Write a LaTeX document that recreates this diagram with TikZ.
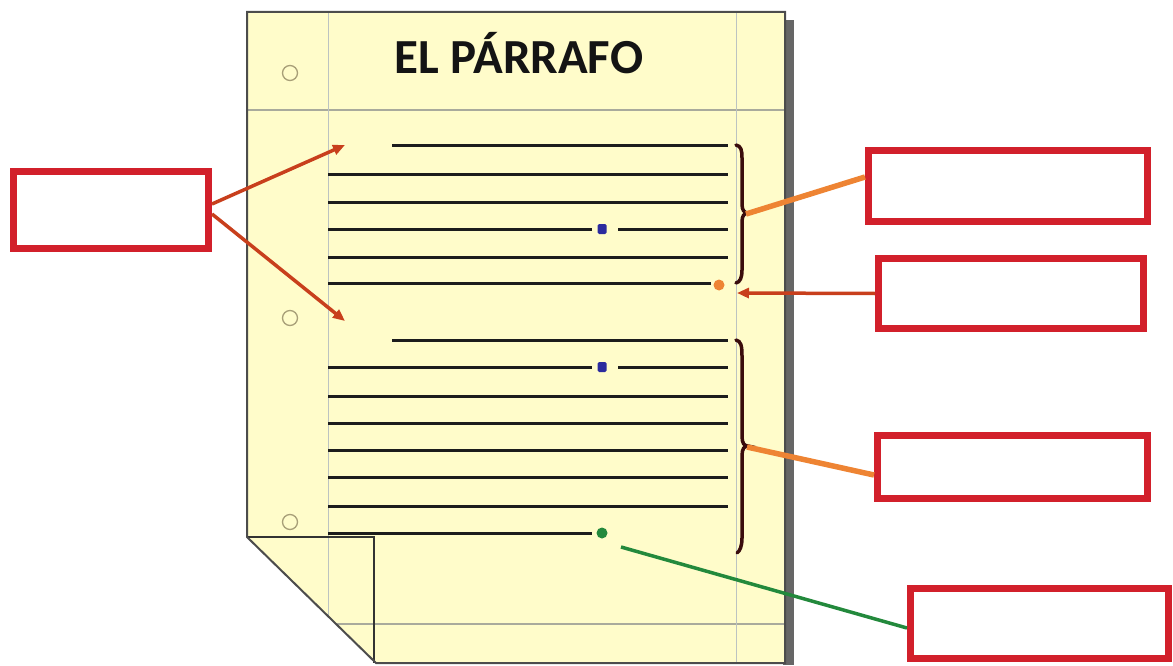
\documentclass[tikz,border=0pt]{standalone}
\usepackage{fontspec}
\newfontfamily\titlefont{Carlito}
\usetikzlibrary{arrows.meta}
\definecolor{paper}{HTML}{FFFCCA}
\definecolor{boxred}{HTML}{D2202B}
\definecolor{arrred}{HTML}{C83F1C}
\definecolor{orng}{HTML}{EE8433}
\definecolor{grn}{HTML}{23893C}
\definecolor{brc}{HTML}{3A0C0C}
\definecolor{txtline}{HTML}{1C1C1C}
\definecolor{rule}{HTML}{A9AA9C}
\definecolor{margin}{HTML}{BCC3C1}
\definecolor{holec}{HTML}{A89F78}
\definecolor{dotblue}{HTML}{2B2B9E}
\tikzset{
  labelbox/.style={draw=boxred, line width=7pt, fill=white, rectangle, inner sep=0pt},
  textline/.style={draw=txtline, line width=3pt},
  redarrow/.style={draw=arrred, line width=3.5pt, -{Triangle[length=12pt,width=10pt]}},
  orangeline/.style={draw=orng, line width=5.5pt},
  greenline/.style={draw=grn, line width=3.5pt},
  bracestyle/.style={draw=brc, line width=3.5pt, line cap=round},
  hole/.style={draw=holec, line width=1.3pt, circle, minimum size=15pt, inner sep=0pt},
}
\begin{document}
\begin{tikzpicture}[x=1pt,y=-1pt]
\useasboundingbox (0,0) rectangle (1173,666);
% shadow
\fill[gray!80!black] (783,20) rectangle (794,665);
% paper
\path[fill=paper] (247,12) -- (785,12) -- (785,663) -- (376,663) -- (247,537) -- cycle;
\begin{scope}
\clip (247,12) -- (785,12) -- (785,663) -- (376,663) -- (247,537) -- cycle;
\draw[rule, line width=1.2pt] (247,110) -- (785,110);
\draw[rule, line width=1.2pt] (247,624) -- (785,624);
\draw[margin, line width=1pt] (328,12) -- (328,663);
\draw[margin, line width=1pt] (736,12) -- (736,663);
\end{scope}
% fold flap
\draw[black!80, line width=2pt] (247,537) -- (374,537) -- (374,663);
\draw[black!70, line width=2pt] (247,12) -- (785,12) -- (785,663) -- (376,663) -- (247,537) -- cycle;
% holes
\node[hole] (h1) at (290,73) {};
\node[hole] (h2) at (290,318) {};
\node[hole] (h3) at (290,522) {};
% title
\node[anchor=base, inner sep=0pt, text=black!92] (title) at (519,74)
  {\titlefont\bfseries\fontsize{49}{54}\selectfont EL PÁRRAFO};
% paragraph 1
\draw[textline] (392,146) -- (728,146);
\draw[textline] (328,175) -- (728,175);
\draw[textline] (328,202) -- (728,202);
\draw[textline] (328,229) -- (592,229);
\draw[textline] (618,229) -- (728,229);
\draw[textline] (328,257) -- (728,257);
\draw[textline] (328,283) -- (711,283);
\fill[dotblue, rounded corners=1.5pt] (597.5,224) rectangle (606.5,234);
\fill[orng] (719,285) circle (5.5pt);
% paragraph 2
\draw[textline] (392,340) -- (728,340);
\draw[textline] (328,367) -- (592,367);
\draw[textline] (618,367) -- (728,367);
\foreach \yy in {396,423,450,477,506} \draw[textline] (328,\yy) -- (728,\yy);
\draw[textline] (328,533) -- (592,533);
\fill[dotblue, rounded corners=1.5pt] (597.5,362) rectangle (606.5,372);
\node[circle, fill=grn, minimum size=11pt, inner sep=0pt] (gdot) at (602,533) {};
% braces
\draw[bracestyle] (736,145) .. controls (741,146) and (742,150) .. (742,158) -- (742,204)
  .. controls (742,210) and (744,213) .. (748,213)
  .. controls (744,213) and (742,216) .. (742,222) -- (742,270)
  .. controls (742,278) and (740,282) .. (736,283);
\draw[bracestyle] (736,340) .. controls (741,341) and (742,346) .. (742,356) -- (742,436)
  .. controls (742,443) and (744,446) .. (748,446)
  .. controls (744,446) and (742,449) .. (742,456) -- (742,538)
  .. controls (742,546) and (740,551) .. (737,553);
% label boxes
\node[labelbox, minimum width=195pt, minimum height=77pt] (lbox) at (111,210) {};
\node[labelbox, minimum width=279pt, minimum height=71pt] (box1) at (1008,186) {};
\node[labelbox, minimum width=265pt, minimum height=70pt] (box2) at (1011,293.5) {};
\node[labelbox, minimum width=270pt, minimum height=63pt] (box3) at (1012.5,467) {};
\node[labelbox, minimum width=258pt, minimum height=70pt] (box4) at (1039.5,623.5) {};
% connector ends
\coordinate (t1) at (345,145);
\coordinate (t2) at (345,321);
\coordinate (brace1) at (746,214);
\coordinate (brace2) at (747,447);
\coordinate (t3) at (737,293);
\coordinate (g0) at (621,547);
% connectors
\draw[redarrow] ([yshift=6pt]lbox.east) -- (t1);
\draw[redarrow] ([yshift=-4pt]lbox.east) -- (t2);
\draw[orangeline] (brace1) -- ([yshift=9pt]box1.west);
\draw[redarrow] (box2.west) -- (t3);
\draw[orangeline] (brace2) -- ([yshift=-8pt]box3.west);
\draw[greenline] (g0) -- ([yshift=-4.5pt]box4.west);
\end{tikzpicture}
\end{document}
